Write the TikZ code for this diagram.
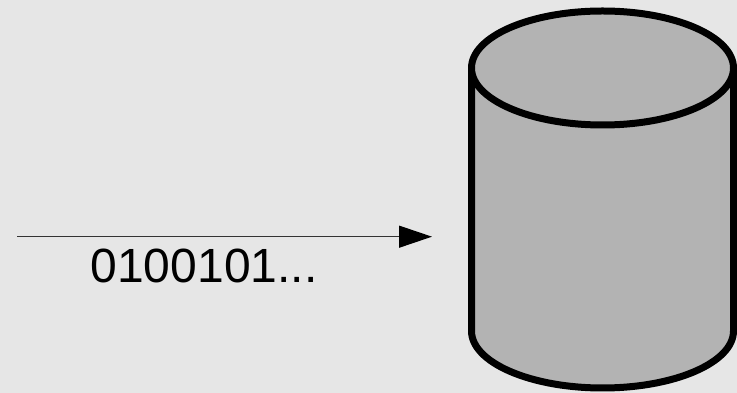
\documentclass[tikz,border=0pt]{standalone}
\usepackage{fontspec}
\setmainfont{Liberation Sans}
\usetikzlibrary{arrows.meta}
\definecolor{bgc}{HTML}{E6E6E6}
\definecolor{cylfill}{HTML}{B3B3B3}
\definecolor{linec}{HTML}{333333}
\begin{document}
\begin{tikzpicture}[x=1pt,y=1pt,
  cylstyle/.style={draw=black,fill=cylfill,line width=7pt,line join=round},
  flow/.style={draw=linec,line width=1.3pt,-{Triangle[length=33pt,width=22pt,fill=black,color=black]}},
  lbl/.style={font=\fontsize{48}{52}\selectfont,inner sep=0pt,anchor=base}]
\fill[bgc] (0,0) rectangle (737,393);
\useasboundingbox (0,0) rectangle (737,393);
% cylinder
\path[cylstyle] (471.5,325) -- (471.5,62)
  arc[start angle=180,end angle=360,x radius=131,y radius=57] -- (733.5,325) -- cycle;
\path[cylstyle] (602.5,325) ellipse[x radius=131,y radius=57];
\coordinate (src) at (17,156.3);
\coordinate (dst) at (432,156.3);
\draw[flow] (src) -- (dst);
\node[lbl] (bits) at (204,110) {0100101...};
\end{tikzpicture}
\end{document}
